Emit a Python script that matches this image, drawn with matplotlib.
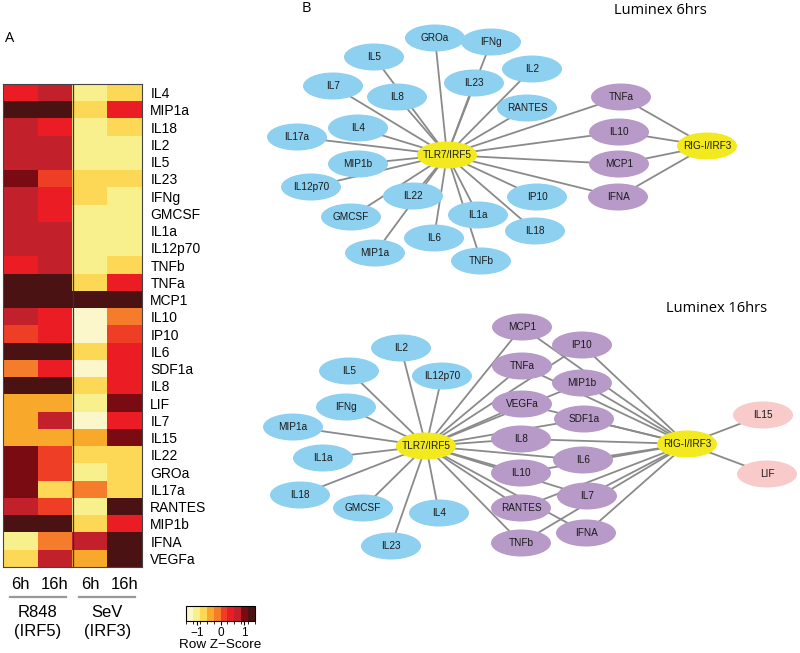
import matplotlib
matplotlib.use('Agg')
import matplotlib.pyplot as plt
import numpy as np
from matplotlib.colors import ListedColormap, BoundaryNorm
from matplotlib.cm import ScalarMappable
from matplotlib.patches import Ellipse

plt.rcParams['font.family'] = ['Liberation Sans', 'DejaVu Sans']

# ---- heatmap data (row z-scores) ----
cytokines = ['IL4', 'MIP1a', 'IL18', 'IL2', 'IL5', 'IL23', 'IFNg', 'GMCSF', 'IL1a',
             'IL12p70', 'TNFb', 'TNFa', 'MCP1', 'IL10', 'IP10', 'IL6', 'SDF1a', 'IL8',
             'LIF', 'IL7', 'IL15', 'IL22', 'GROa', 'IL17a', 'RANTES', 'MIP1b', 'IFNA', 'VEGFa']
time_labels = ['6h', '16h', '6h', '16h']
groups = ['R848\n(IRF5)', 'SeV\n(IRF3)']
r848_6h = [0.45, 1.3, 0.75, 0.75, 0.75, 1.0, 0.75, 0.75, 0.75, 0.75, 0.45, 1.3, 1.3, 0.75,
           0.15, 1.3, -0.15, 1.3, -0.45, -0.45, -0.45, 1.0, 1.0, 1.0, 0.75, 1.3, -1.0, -0.7]
r848_16h = [0.75, 1.3, 0.45, 0.75, 0.75, 0.15, 0.45, 0.45, 0.75, 0.75, 0.75, 1.3, 1.3, 0.45,
            0.45, 1.3, 0.45, 1.3, -0.45, 0.75, -0.45, 0.15, 0.15, -0.7, 0.15, 1.3, -0.15, 0.75]
sev_6h = [-1.0, -0.7, -1.0, -1.0, -1.0, -0.7, -0.7, -1.0, -1.0, -1.0, -1.0, -0.7, 1.3, -1.3,
          -1.3, -0.7, -1.3, -0.7, -1.0, -1.3, -0.45, -0.7, -1.0, -0.15, -1.0, -0.7, 0.75, -0.45]
sev_16h = [-0.7, 0.45, -0.7, -1.0, -1.0, -0.7, -1.0, -1.0, -1.0, -1.0, -0.7, 0.45, 1.3, -0.15,
           0.15, 0.45, 0.45, 0.45, 1.0, 0.45, 1.0, -0.7, -0.7, -0.7, 1.3, 0.45, 1.3, 1.3]

heat_colors = ['#fbf7cb', '#f8f08c', '#fcd856', '#f8a82a', '#f47c2a',
               '#ef3e26', '#ec1c24', '#c2202b', '#7b0b13', '#4b1214']
bounds = np.linspace(-1.45, 1.45, 11)

# ---- network data ----
nodes_6h = {
    'GROa': (435, 38), 'IFNg': (491, 42), 'IL5': (374, 57), 'IL2': (532, 69),
    'IL7': (333, 86), 'IL23': (474, 83), 'IL8': (397, 97), 'RANTES': (527, 108),
    'IL4': (358, 128), 'IL17a': (297, 137), 'MIP1b': (358, 164), 'IL12p70': (311, 187),
    'IL22': (413, 196), 'IP10': (537, 197), 'GMCSF': (351, 217), 'IL1a': (478, 215),
    'IL18': (535, 231), 'IL6': (434, 238), 'MIP1a': (375, 253), 'TNFb': (481, 261),
    'TNFa': (621, 97), 'IL10': (619, 132), 'MCP1': (619, 164), 'IFNA': (618, 197),
    'TLR7/IRF5': (447, 155), 'RIG-I/IRF3': (707, 146),
}
irf5_only_6h = ['GROa', 'IFNg', 'IL5', 'IL2', 'IL7', 'IL23', 'IL8', 'RANTES', 'IL4', 'IL17a',
                'MIP1b', 'IL12p70', 'IL22', 'IP10', 'GMCSF', 'IL1a', 'IL18', 'IL6', 'MIP1a', 'TNFb']
shared_6h = ['TNFa', 'IL10', 'MCP1', 'IFNA']
irf3_only_6h = []

nodes_16h = {
    'IL2': (401, 348), 'IL5': (349, 371), 'IL12p70': (442, 376), 'IFNg': (346, 407),
    'MIP1a': (293, 427), 'IL1a': (323, 458), 'IL18': (300, 495), 'GMCSF': (363, 508),
    'IL4': (439, 513), 'IL23': (391, 546),
    'MCP1': (522, 327), 'IP10': (582, 345), 'TNFa': (522, 366), 'MIP1b': (582, 383),
    'VEGFa': (522, 404), 'SDF1a': (584, 419), 'IL8': (521, 439), 'IL6': (583, 460),
    'IL10': (521, 473), 'IL7': (587, 496), 'RANTES': (521, 508), 'IFNA': (586, 533),
    'TNFb': (521, 543), 'IL15': (763, 415), 'LIF': (767, 474),
    'TLR7/IRF5': (426, 446), 'RIG-I/IRF3': (687, 444),
}
irf5_only_16h = ['IL2', 'IL5', 'IL12p70', 'IFNg', 'MIP1a', 'IL1a', 'IL18', 'GMCSF', 'IL4', 'IL23']
shared_16h = ['MCP1', 'IP10', 'TNFa', 'MIP1b', 'VEGFa', 'SDF1a', 'IL8', 'IL6', 'IL10', 'IL7',
              'RANTES', 'IFNA', 'TNFb']
irf3_only_16h = ['IL15', 'LIF']

fig = plt.figure(figsize=(8, 6.53), dpi=100)
W, H = 800, 653

# ---- panel A heatmap ----
data = np.array([r848_6h, r848_16h, sev_6h, sev_16h]).T
cmap = ListedColormap(heat_colors)
norm = BoundaryNorm(bounds, cmap.N)
ax = fig.add_axes([3 / W, 1 - 567 / H, 139 / W, 483 / H])
ax.imshow(data, cmap=cmap, norm=norm, aspect='auto', interpolation='nearest')
ax.axvline(1.5, color='#333333', lw=0.9)
for s in ax.spines.values():
    s.set_color('#444444')
    s.set_linewidth(0.8)
ax.yaxis.tick_right()
ax.set_yticks(range(len(cytokines)))
ax.set_yticklabels(cytokines, fontsize=10)
ax.tick_params(axis='y', length=0, pad=6)
ax.set_xticks(range(4))
ax.set_xticklabels(time_labels, fontsize=12)
ax.tick_params(axis='x', length=0, pad=7)
for i, g in enumerate(groups):
    x0 = 2 * i
    ax.plot([x0 - 0.3, x0 + 1.3], [29.25, 29.25], color='#999999', lw=1.6, clip_on=False)
    ax.text(x0 + 0.5, 29.7, g, ha='center', va='top', fontsize=12, linespacing=1.35)
ax.set_xlim(-0.5, 3.5)
ax.set_ylim(len(cytokines) - 0.5, -0.5)

cax = fig.add_axes([186 / W, 1 - 621 / H, 69 / W, 15 / H])
cb = fig.colorbar(ScalarMappable(norm=norm, cmap=cmap), cax=cax, orientation='horizontal')
cb.set_ticks([-1, 0, 1])
cb.ax.tick_params(labelsize=8.5, length=3, width=0.8, pad=1.5)
cb.outline.set_linewidth(0.8)
cb.set_label('Row Z\u2212Score', fontsize=9.7, labelpad=0)

fig.text(5 / W, 1 - 38 / H, 'A', fontsize=10.5, va='center', family=['Open Sans', 'DejaVu Sans'])
fig.text(302 / W, 1 - 8 / H, 'B', fontsize=10.5, va='center', family=['Open Sans', 'DejaVu Sans'])

# ---- panel B networks ----
axn = fig.add_axes([240 / W, 0, 560 / W, 1])
axn.set_xlim(240, 800)
axn.set_ylim(H, 0)
axn.axis('off')

blue, purple, yellow, pink = '#8dd0f0', '#b89ac8', '#f2ea1e', '#f8caca'


def draw_net(nodes, irf5_only, shared, irf3_only):
    hub5, hub3 = nodes['TLR7/IRF5'], nodes['RIG-I/IRF3']
    for n in irf5_only + shared:
        axn.plot([hub5[0], nodes[n][0]], [hub5[1], nodes[n][1]], color='#8a8a8a', lw=1.3, zorder=1)
    for n in shared + irf3_only:
        axn.plot([hub3[0], nodes[n][0]], [hub3[1], nodes[n][1]], color='#8a8a8a', lw=1.3, zorder=1)
    colors = {n: blue for n in irf5_only}
    colors.update({n: purple for n in shared})
    colors.update({n: pink for n in irf3_only})
    colors['TLR7/IRF5'] = yellow
    colors['RIG-I/IRF3'] = yellow
    for n, c in colors.items():
        x, y = nodes[n]
        axn.add_patch(Ellipse((x, y), 60, 27, facecolor=c, edgecolor='none', zorder=2))
        axn.text(x, y, n, ha='center', va='center', fontsize=7.2, color='#1a1a1a', zorder=3)


draw_net(nodes_6h, irf5_only_6h, shared_6h, irf3_only_6h)
draw_net(nodes_16h, irf5_only_16h, shared_16h, irf3_only_16h)

axn.text(660, 11, 'Luminex 6hrs', ha='center', va='center', fontsize=10.5,
         family=['Open Sans', 'DejaVu Sans'])
axn.text(717, 308, 'Luminex 16hrs', ha='center', va='center', fontsize=10.5,
         family=['Open Sans', 'DejaVu Sans'])

fig.savefig('out.png', dpi=100)
